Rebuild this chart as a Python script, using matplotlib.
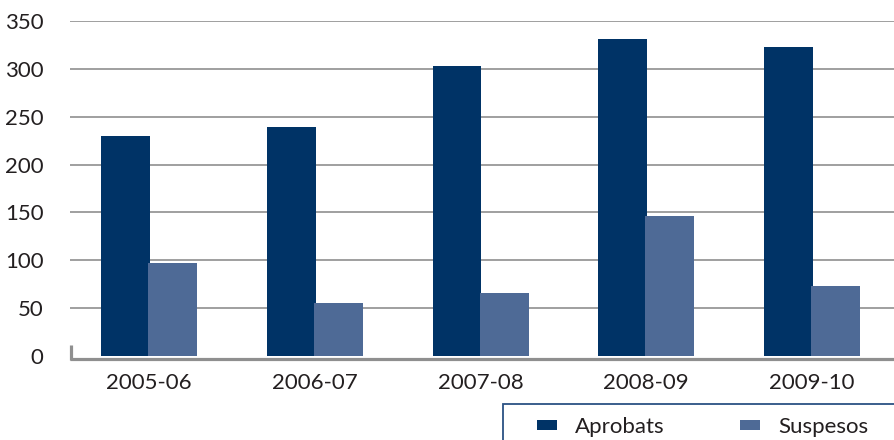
import matplotlib.pyplot as plt
import numpy as np
from matplotlib.patches import Rectangle

plt.rcParams['font.family'] = ['Lato', 'DejaVu Sans']

cursos = ['2005-06', '2006-07', '2007-08', '2008-09', '2009-10']
aprobats = [230, 239, 303, 331, 323]
suspesos = [97, 55, 66, 146, 73]

col_aprob = '#003366'
col_susp = '#4e6a96'
col_grid = '#8f8f8f'
col_text = '#231f20'

fig = plt.figure(figsize=(8.94, 4.40), dpi=100)
ax = fig.add_axes([70 / 894, 84 / 440, 1 - 70 / 894, 335 / 440])

x = np.arange(len(cursos))
w = 0.295
ax.bar(x - 0.142, aprobats, w, color=col_aprob, label='Aprobats', zorder=3)
ax.bar(x + 0.142, suspesos, w, color=col_susp, label='Suspesos', zorder=3)

ax.set_xlim(-0.476, 4.494)
ax.set_ylim(0, 350)
ax.set_yticks(range(0, 351, 50))
ax.set_xticks(x)
ax.set_xticklabels(cursos)

# horizontal gridlines, skip the zero line (baseline drawn separately)
for v in range(50, 351, 50):
    ax.axhline(v, color=col_grid, lw=1.2, zorder=1)

for s in ax.spines.values():
    s.set_visible(False)

ax.tick_params(axis='y', length=0, pad=19, labelsize=16, labelcolor=col_text)
ax.tick_params(axis='x', length=0, pad=12, labelsize=16, labelcolor=col_text)

# baseline and small left bracket
ax.plot([0, 1], [-0.009, -0.009], transform=ax.transAxes, color=col_grid,
        lw=2.3, clip_on=False, zorder=2, solid_capstyle='butt')
ax.plot([0.0012, 0.0012], [-0.012, 0.033], transform=ax.transAxes, color=col_grid,
        lw=2.3, clip_on=False, zorder=2, solid_capstyle='butt')

# legend box running off the bottom right corner
fig.patches.append(Rectangle((503 / 894, -0.1), 0.5, 0.1 + 36 / 440,
                             transform=fig.transFigure, fill=False,
                             edgecolor='#2b5283', lw=1.3))
fig.legend(loc='center left', bbox_to_anchor=(537 / 894, 13 / 440),
           ncol=2, frameon=False, fontsize=16, handlelength=0.9,
           handleheight=0.37, handletextpad=0.81, columnspacing=3.4,
           borderpad=0, borderaxespad=0, labelcolor=col_text)

fig.savefig('out.png', dpi=100)
